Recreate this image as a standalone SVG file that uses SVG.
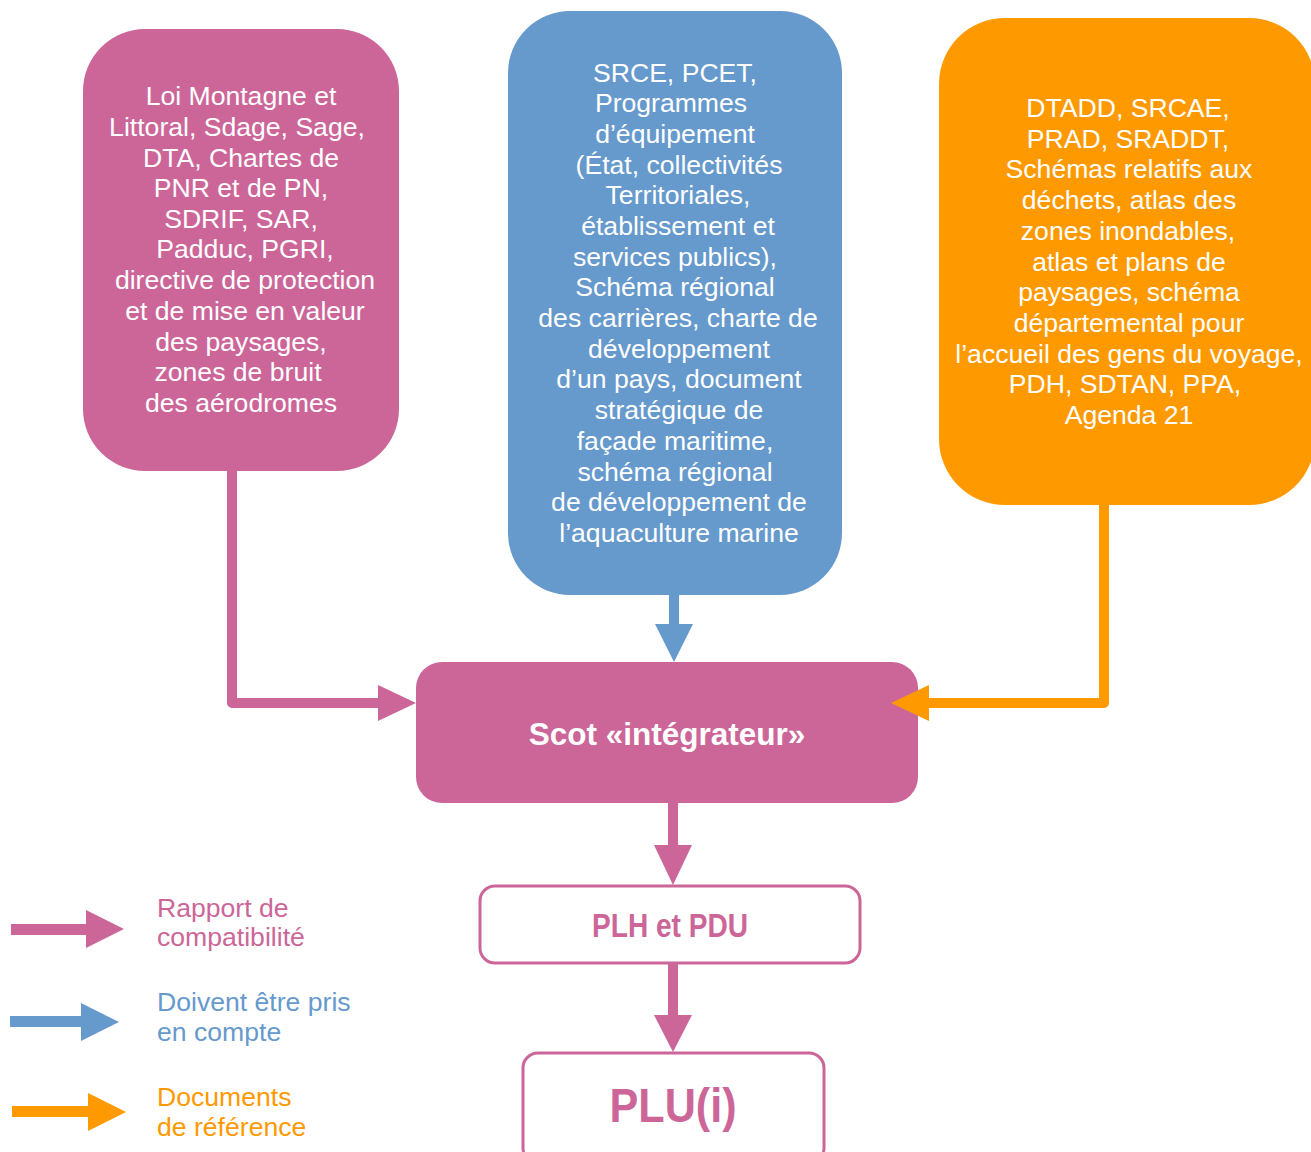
<svg xmlns="http://www.w3.org/2000/svg" width="1311" height="1152" viewBox="0 0 1311 1152">
<style>
  .t { font-family: "Liberation Sans", Arial, sans-serif; font-size: 26.6px; fill: #ffffff; text-anchor: middle; }
  .lg { font-family: "Liberation Sans", Arial, sans-serif; font-size: 26.6px; }
  .nar { font-family: "Liberation Sans Narrow", "Arial Narrow", "Liberation Sans", sans-serif; font-weight: bold; fill: #CC6699; text-anchor: middle; }
  .pk { fill: #CC6699; }
  .bl { fill: #6699CC; }
  .or { fill: #FF9900; }
  .lp { fill: none; stroke: #CC6699; stroke-width: 10; stroke-linejoin: round; }
  .lb { fill: none; stroke: #6699CC; stroke-width: 10; }
  .lo { fill: none; stroke: #FF9900; stroke-width: 10; stroke-linejoin: round; }
</style>
<rect width="1311" height="1152" fill="#ffffff"/>

<g id="node-loi">
  <rect x="83" y="29" width="316" height="442" rx="62" class="pk"/>
  <text class="t"><tspan x="241" y="105">Loi Montagne et</tspan><tspan x="237" y="136">Littoral, Sdage, Sage,</tspan><tspan x="241" y="167">DTA, Chartes de</tspan><tspan x="241" y="197">PNR et de PN,</tspan><tspan x="241" y="228">SDRIF, SAR,</tspan><tspan x="245" y="258">Padduc, PGRI,</tspan><tspan x="245" y="289">directive de protection</tspan><tspan x="245" y="320">et de mise en valeur</tspan><tspan x="241" y="351">des paysages,</tspan><tspan x="238" y="381">zones de bruit</tspan><tspan x="241" y="412">des aérodromes</tspan></text>
</g>

<g id="node-srce">
  <rect x="508" y="11" width="334" height="584" rx="62" class="bl"/>
  <text class="t"><tspan x="675" y="82">SRCE, PCET,</tspan><tspan x="671" y="112">Programmes</tspan><tspan x="675" y="143">d’équipement</tspan><tspan x="679" y="174">(État, collectivités</tspan><tspan x="678" y="204">Territoriales,</tspan><tspan x="678" y="235">établissement et</tspan><tspan x="675" y="266">services publics),</tspan><tspan x="675" y="296">Schéma régional</tspan><tspan x="678" y="327">des carrières, charte de</tspan><tspan x="679" y="358">développement</tspan><tspan x="679" y="388">d’un pays, document</tspan><tspan x="679" y="419">stratégique de</tspan><tspan x="675" y="450">façade maritime,</tspan><tspan x="675" y="481">schéma régional</tspan><tspan x="679" y="511">de développement de</tspan><tspan x="679" y="542">l’aquaculture marine</tspan></text>
</g>

<g id="node-dtadd">
  <rect x="939" y="18" width="376" height="487" rx="66" class="or"/>
  <text class="t"><tspan x="1128" y="117">DTADD, SRCAE,</tspan><tspan x="1128" y="148">PRAD, SRADDT,</tspan><tspan x="1129" y="178">Schémas relatifs aux</tspan><tspan x="1129" y="209">déchets, atlas des</tspan><tspan x="1128" y="240">zones inondables,</tspan><tspan x="1129" y="271">atlas et plans de</tspan><tspan x="1129" y="301">paysages, schéma</tspan><tspan x="1129" y="332">départemental pour</tspan><tspan x="1129" y="363">l’accueil des gens du voyage,</tspan><tspan x="1125" y="393">PDH, SDTAN, PPA,</tspan><tspan x="1129" y="424">Agenda 21</tspan></text>
</g>

<g id="node-scot">
  <rect x="416" y="662" width="502" height="141" rx="26" class="pk"/>
  <text x="667" y="745" font-family="Liberation Sans, Arial, sans-serif" font-size="31.5" font-weight="bold" fill="#ffffff" text-anchor="middle">Scot «intégrateur»</text>
</g>

<g id="node-plh">
  <rect x="480" y="886" width="380" height="77" rx="15" fill="#ffffff" stroke="#CC6699" stroke-width="3"/>
  <text class="nar" x="670" y="937" font-size="34" textLength="156" lengthAdjust="spacingAndGlyphs">PLH et PDU</text>
</g>

<g id="node-plu">
  <rect x="523" y="1053" width="301" height="110" rx="15" fill="#ffffff" stroke="#CC6699" stroke-width="3"/>
  <text class="nar" x="673" y="1122" font-size="49" textLength="127" lengthAdjust="spacingAndGlyphs">PLU(i)</text>
</g>

<g id="connectors">
  <path class="lp" d="M232 471 V703 H382"/>
  <polygon class="pk" points="378,685 416,703 378,721"/>
  <path class="lb" d="M674 595 V628"/>
  <polygon class="bl" points="655,624 693,624 674,662"/>
  <path class="lo" d="M1104 505 V703 H926"/>
  <polygon class="or" points="929,685 891,703 929,721"/>
  <path class="lp" d="M673 803 V848"/>
  <polygon class="pk" points="654,845 692,845 673,885"/>
  <path class="lp" d="M673 964 V1018"/>
  <polygon class="pk" points="654,1015 692,1015 673,1052"/>
</g>

<g id="legend">
  <rect x="11" y="924" width="78" height="11" class="pk"/>
  <polygon class="pk" points="86,910 124,929 86,948"/>
  <text class="lg" fill="#CC6699"><tspan x="157" y="917">Rapport de</tspan><tspan x="157" y="946">compatibilité</tspan></text>

  <rect x="10" y="1016" width="74" height="11" class="bl"/>
  <polygon class="bl" points="81,1003 119,1022 81,1041"/>
  <text class="lg" fill="#6699CC"><tspan x="157" y="1011">Doivent être pris</tspan><tspan x="157" y="1041">en compte</tspan></text>

  <rect x="12" y="1106" width="78" height="11" class="or"/>
  <polygon class="or" points="88,1093 126,1112 88,1131"/>
  <text class="lg" fill="#FF9900"><tspan x="157" y="1106">Documents</tspan><tspan x="157" y="1136">de référence</tspan></text>
</g>
</svg>
